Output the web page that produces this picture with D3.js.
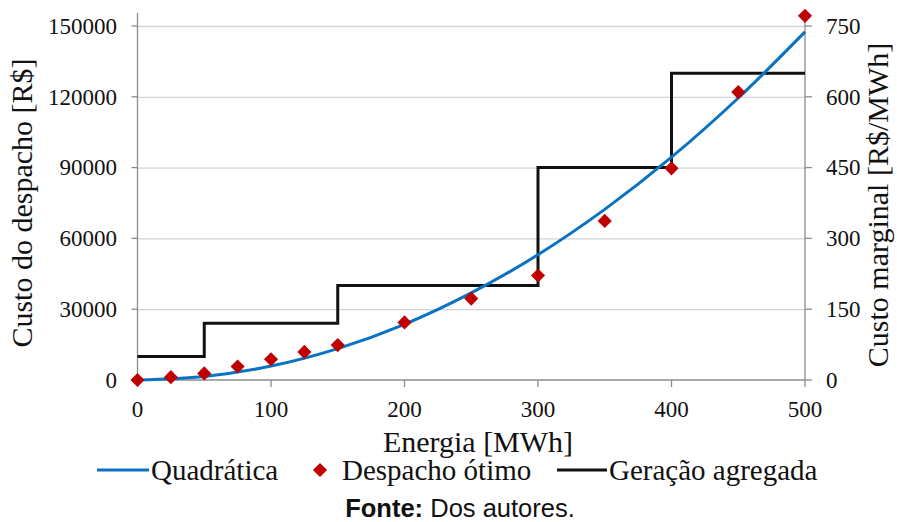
<!DOCTYPE html>
<html>
<head>
<meta charset="utf-8">
<script src="https://cdn.jsdelivr.net/npm/d3@7"></script>
<style>
  body { margin: 0; background: #fff; }
  svg { display: block; }
  .serif { font-family: "Liberation Serif", "Times New Roman", Times, "DejaVu Serif", serif; fill: #111; }
  .sans { font-family: "Liberation Sans", Arial, Helvetica, sans-serif; fill: #111; }
</style>
</head>
<body>
<svg id="chart" width="897" height="522"></svg>
<script>
// ---- Data ----
const xTicks = [0, 100, 200, 300, 400, 500];
const leftTicks = [0, 30000, 60000, 90000, 120000, 150000];
const rightTicks = [0, 150, 300, 450, 600, 750];

// Quadrática (fitted cost curve), R$
const quadEnergy = [0, 50, 100, 150, 200, 250, 300, 350, 400, 450, 500];
const quadCost   = [0, 1500, 5900, 13300, 23600, 36900, 53100, 72300, 94400, 119500, 147500];

// Despacho ótimo points, R$
const dispEnergy = [0, 25, 50, 75, 100, 125, 150, 200, 250, 300, 350, 400, 450, 500];
const dispCost   = [0, 1200, 2800, 5700, 8800, 11900, 14800, 24400, 34500, 44300, 67400, 89700, 122000, 154300];

// Geração agregada (marginal cost step), R$/MWh
const stepEnergy = [0, 50, 150, 300, 400, 500];
const stepCost   = [50, 120, 200, 450, 650, 650];

const legendLabels = ["Quadrática", "Despacho ótimo", "Geração agregada"];

// ---- Layout ----
const svg = d3.select("#chart");
const x0 = 137.5, x1 = 805, yTop = 26, yBot = 380;
const x = d3.scaleLinear().domain([0, 500]).range([x0, x1]);
const yL = d3.scaleLinear().domain([0, 150000]).range([yBot, yTop]);
const yR = d3.scaleLinear().domain([0, 750]).range([yBot, yTop]);

const axisGray = "#8c8c8c";

// gridlines
svg.append("g").selectAll("line").data(leftTicks.filter(d => d > 0)).join("line")
  .attr("x1", x0).attr("x2", x1)
  .attr("y1", d => yL(d) + 0.5).attr("y2", d => yL(d) + 0.5)
  .attr("stroke", "#d4d4d4").attr("stroke-width", 1.3);

// axes lines
const axG = svg.append("g").attr("stroke", axisGray).attr("stroke-width", 1.3);
axG.append("line").attr("x1", x0).attr("x2", x0).attr("y1", 13).attr("y2", yBot);
axG.append("line").attr("x1", x1).attr("x2", x1).attr("y1", 13).attr("y2", yBot);
axG.append("line").attr("x1", x0).attr("x2", x1).attr("y1", yBot).attr("y2", yBot);
// ticks
axG.selectAll(".tl").data(leftTicks).join("line")
  .attr("x1", x0 - 6).attr("x2", x0).attr("y1", d => yL(d)).attr("y2", d => yL(d));
axG.selectAll(".tr").data(rightTicks).join("line")
  .attr("x1", x1).attr("x2", x1 + 7).attr("y1", d => yR(d)).attr("y2", d => yR(d));
axG.selectAll(".tx").data(xTicks).join("line")
  .attr("x1", d => x(d)).attr("x2", d => x(d)).attr("y1", yBot).attr("y2", yBot + 7);

// tick labels
const tickFont = 23;
svg.append("g").selectAll("text").data(leftTicks).join("text")
  .attr("class", "serif")
  .attr("x", 117).attr("y", d => yL(d)).attr("dy", "0.34em")
  .attr("text-anchor", "end").attr("font-size", tickFont).text(d => d);
svg.append("g").selectAll("text").data(rightTicks).join("text")
  .attr("class", "serif")
  .attr("x", 826).attr("y", d => yR(d)).attr("dy", "0.34em")
  .attr("text-anchor", "start").attr("font-size", tickFont).text(d => d);
svg.append("g").selectAll("text").data(xTicks).join("text")
  .attr("class", "serif")
  .attr("x", d => x(d)).attr("y", 417)
  .attr("text-anchor", "middle").attr("font-size", tickFont).text(d => d);

// axis titles
const titleFont = 30;
svg.append("text").attr("class", "serif").attr("transform", "translate(32,203) rotate(-90)")
  .attr("text-anchor", "middle").attr("font-size", titleFont).text("Custo do despacho [R$]");
svg.append("text").attr("class", "serif").attr("transform", "translate(888,205) rotate(-90)")
  .attr("text-anchor", "middle").attr("font-size", titleFont).text("Custo marginal [R$/MWh]");
svg.append("text").attr("class", "serif").attr("x", 478).attr("y", 452)
  .attr("text-anchor", "middle").attr("font-size", titleFont).text("Energia [MWh]");

// step line (right axis)
const stepData = stepEnergy.map((e, i) => [e, stepCost[i]]);
svg.append("path").datum(stepData)
  .attr("d", d3.line().x(d => x(d[0])).y(d => yR(d[1])).curve(d3.curveStepAfter))
  .attr("fill", "none").attr("stroke", "#111").attr("stroke-width", 3);

// quadratic curve
const quadData = quadEnergy.map((e, i) => [e, quadCost[i]]);
svg.append("path").datum(quadData)
  .attr("d", d3.line().x(d => x(d[0])).y(d => yL(d[1])).curve(d3.curveMonotoneX))
  .attr("fill", "none").attr("stroke", "#0A72C2").attr("stroke-width", 3);

// dispatch points
const diamond = d3.symbol(d3.symbolSquare, 100)();
svg.append("g").selectAll("path").data(dispEnergy.map((e, i) => [e, dispCost[i]])).join("path")
  .attr("d", diamond)
  .attr("transform", d => `translate(${x(d[0])},${yL(d[1])}) rotate(45)`)
  .attr("fill", "#C00000");

// legend
const lg = svg.append("g");
lg.append("line").attr("x1", 97).attr("x2", 149).attr("y1", 470).attr("y2", 470)
  .attr("stroke", "#0A72C2").attr("stroke-width", 3);
lg.append("text").attr("class", "serif").attr("x", 151).attr("y", 480).attr("font-size", 29)
  .text(legendLabels[0]);
lg.append("path").attr("d", diamond).attr("transform", "translate(320,470) rotate(45)").attr("fill", "#C00000");
lg.append("text").attr("class", "serif").attr("x", 342).attr("y", 480).attr("font-size", 29)
  .text(legendLabels[1]);
lg.append("line").attr("x1", 557).attr("x2", 607).attr("y1", 470).attr("y2", 470)
  .attr("stroke", "#111").attr("stroke-width", 3);
lg.append("text").attr("class", "serif").attr("x", 609).attr("y", 480).attr("font-size", 29)
  .text(legendLabels[2]);

// source note
const src = svg.append("text").attr("class", "sans").attr("x", 460).attr("y", 516.5)
  .attr("text-anchor", "middle").attr("font-size", 25.5);
src.append("tspan").attr("font-weight", "bold").text("Fonte:");
src.append("tspan").text(" Dos autores.");
</script>
</body>
</html>
